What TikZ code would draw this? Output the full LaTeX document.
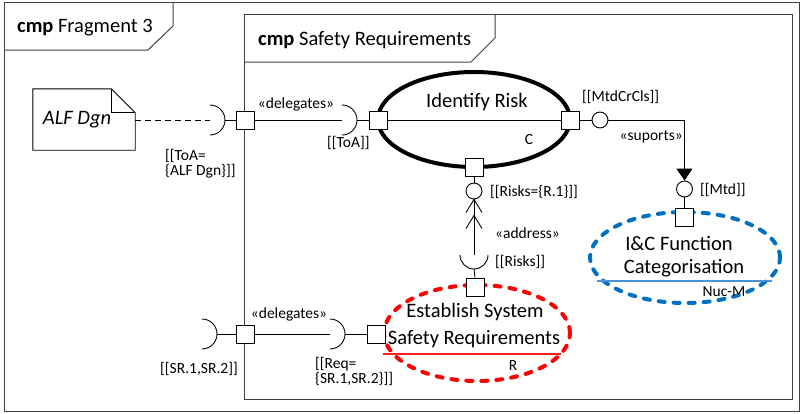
\documentclass[tikz,border=0pt]{standalone}
\usepackage{fontspec}
\setmainfont{Carlito}
\usetikzlibrary{arrows.meta,shapes.geometric}
\definecolor{frameline}{HTML}{404040}
\definecolor{reqred}{HTML}{FF0000}
\definecolor{reqredthin}{HTML}{FF2020}
\definecolor{catblue}{HTML}{0070C0}
\definecolor{catbluethin}{HTML}{4A90D9}
\tikzset{
  lbl/.style={font=\fontsize{15.5}{15}\selectfont, inner sep=0pt},
  big/.style={font=\fontsize{20.5}{27}\selectfont, inner sep=0pt},
  port/.style={draw, fill=white, minimum size=18pt, inner sep=0pt, line width=0.9pt},
  ball/.style={draw, fill=white, circle, minimum size=16pt, inner sep=0pt, line width=0.9pt},
  frm/.style={draw=frameline, line width=1pt},
  wire/.style={line width=0.9pt},
  usecase/.style={ellipse, inner sep=0pt, outer sep=0pt},
}
\begin{document}
\begin{tikzpicture}[x=1pt,y=-1pt]
\useasboundingbox (0,0) rectangle (801,413);

% outer frame with its tab
\draw[frm] (4,2) rectangle (799,411);
\draw[frm] (4,50) -- (148,50) -- (173,26) -- (173,2);
\node[big, anchor=base west] (t1) at (17,32) {\textbf{cmp} Fragment 3};

% inner frame with its tab
\draw[frm] (244,14) rectangle (792,399);
\draw[frm] (244,62) -- (471,62) -- (495,38) -- (495,14);
\node[big, anchor=base west] (t2) at (258,45) {\textbf{cmp} Safety Requirements};

% note
\node[minimum width=102pt, minimum height=61pt, inner sep=0pt] (note) at (84,119.5) {};
\draw[wire, fill=white] (note.north west) -- ([xshift=-24pt]note.north east) -- ([yshift=-24pt]note.north east)
   -- (note.south east) -- (note.south west) -- cycle;
\draw[wire] ([xshift=-24pt]note.north east) -- ([xshift=-24pt,yshift=-24pt]note.north east) -- ([yshift=-24pt]note.north east);
\node[big, font=\fontsize{20.5}{24}\selectfont\itshape] (notetxt) at (77,120) {ALF Dgn};

% use cases
\node[usecase, draw, line width=4pt, minimum width=192pt, minimum height=95pt] (ir) at (474,119.5) {};
\node[usecase, draw=catblue, line width=4pt, line cap=round, dash pattern=on 6pt off 9pt,
      minimum width=190pt, minimum height=91pt] (ic) at (685,257.5) {};
\node[usecase, draw=reqred, line width=4pt, line cap=round, dash pattern=on 6pt off 9pt,
      minimum width=186pt, minimum height=96pt] (es) at (477,333) {};

\node[big] (irt) at (477,102) {Identify Risk};
\node[lbl] (irc) at (529,140) {C};
\node[big] (ict1) at (679,243) {I\&C Function};
\node[big] (ict2) at (684,268) {Categorisation};
\draw[catbluethin, line width=1.3pt] (597,281) -- (772,281);
\node[lbl] (icn) at (724,292) {Nuc-M};
\node[big] (est1) at (475,312) {Establish System};
\node[big] (est2) at (474,339) {Safety Requirements};
\draw[reqredthin, line width=1.3pt] (383,354) -- (561,354);
\node[lbl] (esr) at (513,366) {R};

% ports
\node[port] (fp1) at (245,120) {};
\node[port] (fp2) at (245,334) {};
\node[port] (irl) at (378,120) {};
\node[port] (irr) at (570,120) {};
\node[port] (irb) at (474,167) {};
\node[port] (icp) at (684.5,217) {};
\node[port] (est) at (475,287) {};
\node[port] (esl) at (376,334) {};

% provided interfaces
\node[ball] (b1) at (600,120) {};
\node[ball] (b2) at (684.5,189) {};
\node[ball] (b3) at (474,191) {};

% required interfaces (sockets)
\coordinate (s1) at (210,120);
\coordinate (s2) at (342,120);
\coordinate (s3) at (202,334);
\coordinate (s4) at (330,334);
\coordinate (s5) at (474,255);
\coordinate (s1r) at (225,120);
\coordinate (s2r) at (357,120);
\coordinate (s3r) at (217,334);
\coordinate (s4r) at (345,334);
\coordinate (s5b) at (474,269);
\draw[wire] (s1) ++(0,15) arc[start angle=90, end angle=-90, radius=15];
\draw[wire] (s2) ++(0,15) arc[start angle=90, end angle=-90, radius=15];
\draw[wire] (s3) ++(0,15) arc[start angle=90, end angle=-90, radius=15];
\draw[wire] (s4) ++(0,15) arc[start angle=90, end angle=-90, radius=15];
\draw[wire] (s5) ++(-14,0) arc[start angle=180, end angle=0, radius=14];

% connectors
\draw[wire, dash pattern=on 6pt off 4pt] (note.east |- s1) -- (s1);
\draw[wire] (s1r) -- (fp1.west);
\draw[wire] (fp1.east) -- (s2);
\draw[wire] (s2r) -- (irl.west);
\draw[wire] (irl.east) -- (irr.west);
\draw[wire] (irr.east) -- (b1.west);
\draw[wire, -{Triangle[length=12pt,width=16pt]}] (b1.east) -| (b2.north);
\draw[wire] (b2.south) -- (icp.north);
\draw[wire] (irb.south) -- (b3.north);
\draw[wire] (s5) -- (b3.south);
\draw[wire] (b3.south) ++(-8,13) -- ++(8,-13) -- ++(8,13);
\draw[wire] (b3.south) ++(-8,29) -- ++(8,-13) -- ++(8,13);
\draw[wire] (s5b) -- (est.north);
\draw[wire] (s3r) -- (fp2.west);
\draw[wire] (fp2.east) -- (s4);
\draw[wire] (s4r) -- (esl.west);

% labels
\node[lbl] (d1) at (296,104) {«delegates»};
\node[lbl, align=left, anchor=north west] (toa) at (165,149) {[[ToA=\\\{ALF Dgn\}]]};
\node[lbl, anchor=west] (toa2) at (327,143) {[[ToA]]};
\node[lbl, anchor=west] (mcc) at (582,97) {[[MtdCrCls]]};
\node[lbl, anchor=east] (sup) at (683,137) {«suports»};
\node[lbl, anchor=west] (mtd) at (700,190) {[[Mtd]]};
\node[lbl, anchor=west] (rk1) at (490,192) {[[Risks=\{R.1\}]]};
\node[lbl, anchor=west] (adr) at (495,233) {«address»};
\node[lbl, anchor=west] (rk2) at (495,262) {[[Risks]]};
\node[lbl] (d2) at (289,314) {«delegates»};
\node[lbl, anchor=west] (sr) at (160,369) {[[SR.1,SR.2]]};
\node[lbl, align=left, anchor=north west] (req) at (315,357) {[[Req=\\\{SR.1,SR.2\}]]};
\end{tikzpicture}
\end{document}
